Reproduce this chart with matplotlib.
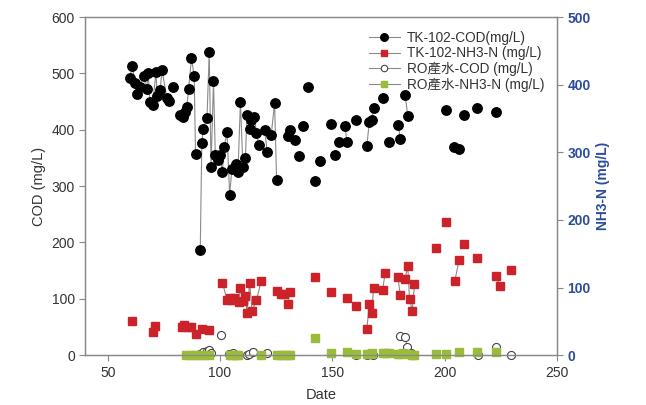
import matplotlib.pyplot as plt
import numpy as np

plt.rcParams['font.family'] = ['Liberation Sans', 'Noto Sans CJK TC']

nan = np.nan

# TK-102 COD (left axis), nan = gap in the line
cod_date = [59.8, 61, 62, 63, 64.3, 66, 67.3, 68, 68.8, 70, 71.5, 72, 73.3, 74.2, 76.3, 77.2, nan,
            79.2, nan,
            82.2, 83.4, 84.4, 85.2, 86, 87.3, 88.5, 89.1, nan,
            91.2, 91.9, 92.6, 94.2, 95.2, 96, 97.1, 97.9, 98.9, 100.1, 101, 101.9, 103.1, 104.3,
            105.3, 107.3, 108, 109.1, 110.2, 111.3, 112, 113.2, 114, 115.3, 116.2, 117.3, nan,
            119.9, 121, nan, 122.8, 124.3, 125.2, nan, 130.2, 131.1, 133.2, nan,
            135.1, nan, 137.1, nan, 139.2, nan, 142.3, nan, 144.4, nan, 149.3, nan, 151.3, nan,
            153, nan, 155.6, 156.5, nan, 160.5, nan, 165.4, 166.5, 167.5, 168.4, nan, 172.4, nan,
            175.4, nan, 179.4, 180.3, nan, 182.4, 183.6, nan, 200.5, nan, 204.2, 206.4, nan,
            208.5, nan, 214.5, nan, 222.7]
cod_val = [492, 513, 483, 463, 476, 495, 472, 500, 450, 444, 503, 459, 470, 506, 456, 451, nan,
           476, nan,
           426, 422, 432, 441, 472, 527, 495, 357, nan,
           186, 377, 402, 420, 538, 334, 486, 355, 346, 355, 325, 370, 396, 284,
           331, 340, 325, 450, 334, 349, 426, 402, 417, 423, 395, 373, nan,
           399, 361, nan, 391, 447, 311, nan, 388, 399, 382, nan,
           353, nan, 407, nan, 476, nan, 309, nan, 344, nan, 411, nan, 355, nan,
           379, nan, 407, 379, nan, 418, nan, 372, 414, 418, 438, nan, 456, nan,
           378, nan, 408, 383, nan, 462, 425, nan, 435, nan, 369, 365, nan,
           426, nan, 438, nan, 431]

# TK-102 NH3-N (right axis)
nh3_date = [61, nan, 70, 71, nan, 83, 84.1, 85.2, 87.1, 89.2, nan, 91.9, 95.3, nan,
            101.1, 103.1, 104.3, 105.3, 106.4, 108.3, 109.1, 110.3, 111.3, 112, 113.2, 114.3,
            116.2, 118.3, nan, 125.2, 127, 128.4, nan, 130.2, 131.1, nan, 142.3, nan, 149.3, nan,
            156.5, nan, 160.5, nan, 165.4, 166.5, 167.5, 168.4, nan, 172.4, 173.6, nan,
            179.2, 180.3, nan, 182.4, 183.6, 184.4, 185.6, 186.6, nan, 196.4, nan, 200.5, nan,
            204.5, 206.5, nan, 208.5, nan, 214.5, nan, 222.7, 224.8, nan, 229.6]
nh3_val = [50, nan, 35, 43, nan, 42, 45, 42, 42, 32, nan, 38, 37, nan,
           107, 82, 84, 81, 84, 79, 100, 80, 87, 63, 107, 66,
           81, 109, nan, 95, 91, 90, nan, 75, 94, nan, 115, nan, 94, nan,
           85, nan, 73, nan, 39, 76, 62, 99, nan, 97, 122, nan,
           115, 89, nan, 113, 132, 83, 66, 105, nan, 159, nan, 197, nan,
           109, 141, nan, 164, nan, 144, nan, 117, 102, nan, 126]

# RO product water COD (left axis)
ro_cod_date = [89.6, 91, 92.5, 94.2, 95, 96, nan, 100.4, nan, 104, 105.8, 107, nan, 112, 113, 114.6,
               nan, 121, nan, 126, nan, 160.5, nan, 165.4, nan, 168, nan, 180, 182.4, 183.3, 185, 186,
               nan, 214.7, nan, 222.7, nan, 229.6]
ro_cod_val = [0, 2, 5, 8, 9, 3, nan, 36, nan, 2, 4, 1, nan, 0, 2, 5,
              nan, 3, nan, 0, nan, 0, nan, 1, nan, 0, nan, 34, 33, 15, 3, 1,
              nan, 0, nan, 15, nan, 0]

# RO product water NH3-N (right axis)
ro_nh3_date = [84.9, 87, 89, 91, 93, 95.3, nan, 104.5, 105.3, 107, 108, nan, 118.3, nan,
               125.2, 127, 128.4, 130.2, 131.1, nan, 142.3, nan, 149.3, nan, 156.5, nan, 160.5, nan,
               165.4, 166.5, 167.5, nan, 172.4, 173.6, nan, 175.4, nan, 179.2, 180.3, 181.5, 183.6,
               185.6, 186.6, nan, 196.4, nan, 200.5, nan, 206.5, nan, 214.5, nan, 222.7]
ro_nh3_val = [0, 0, 0, 1, 1, 0, nan, 0, 0, 0, 0, nan, 0, nan,
              0, 0, 0, 0, 0, nan, 25, nan, 3, nan, 5, nan, 2, nan,
              1.5, 2, 3, nan, 3, 3, nan, 3, nan, 2, 2, 3, 2,
              1, 0, nan, 2, nan, 2, nan, 5, nan, 4, nan, 5]

labels = ["TK-102-COD(mg/L)", "TK-102-NH3-N (mg/L)", "RO產水-COD (mg/L)", "RO產水-NH3-N (mg/L)"]

fig = plt.figure(figsize=(6.46, 4.05), dpi=100)
ax = fig.add_axes([0.132, 0.123, 0.730, 0.835])
ax2 = ax.twinx()

line_c = "#8a8a8a"
h1, = ax.plot(cod_date, cod_val, "-o", color=line_c, lw=0.8, mfc="black", mec="black", ms=6.8)
h3, = ax.plot(ro_cod_date, ro_cod_val, "-o", color=line_c, lw=0.8, mfc="white", mec="#444444",
              mew=0.8, ms=5.8, clip_on=False)
h2, = ax2.plot(nh3_date, nh3_val, "-s", color=line_c, lw=0.8, mfc="#cc2229", mec="#cc2229", ms=6)
h4, = ax2.plot(ro_nh3_date, ro_nh3_val, "-s", color=line_c, lw=0.8, mfc="#9bbb3b", mec="#9bbb3b",
               ms=6, clip_on=False)

ax.set_xlim(40, 250)
ax.set_ylim(0, 600)
ax2.set_ylim(0, 500)
ax.set_xticks(np.arange(50, 251, 50))
ax.set_yticks(np.arange(0, 601, 100))
ax2.set_yticks(np.arange(0, 501, 100))

for a in (ax, ax2):
    for s in a.spines.values():
        s.set_color("#888888")
        s.set_linewidth(0.9)
ax.tick_params(direction="out", length=4, color="#888888", labelcolor="#333333", labelsize=10)
ax2.tick_params(direction="out", length=4, color="#888888", labelcolor="#2b4c9b", labelsize=10)
for t in ax2.get_yticklabels():
    t.set_fontweight("bold")

ax.set_xlabel("Date", fontsize=10.5, color="#333333", labelpad=6)
ax.set_ylabel("COD (mg/L)", fontsize=10.5, color="#333333")
ax2.set_ylabel("NH3-N (mg/L)", fontsize=10, color="#2b4c9b", fontweight="bold")

ax2.legend([h1, h2, h3, h4], labels, loc="upper left", bbox_to_anchor=(0.575, 0.995),
           frameon=False, fontsize=9.8, handlelength=2.3, labelspacing=0.1, handletextpad=0.5,
           markerscale=0.8, labelcolor="#333333")

fig.savefig("out.png", dpi=100)
